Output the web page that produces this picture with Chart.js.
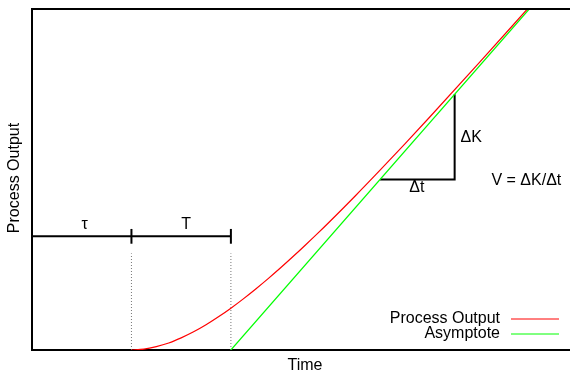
<!DOCTYPE html>
<html>
<head>
<meta charset="utf-8">
<script src="https://cdn.jsdelivr.net/npm/chart.js@4/dist/chart.umd.min.js"></script>
<style>
  html, body { margin: 0; padding: 0; background: #fff; }
  #wrap { width: 570px; height: 374px; position: relative; }
</style>
</head>
<body>
<div id="wrap"><canvas id="chart"></canvas></div>
<script>
// Process output (ramp response)
const outputTime = [1, 1.125, 1.25, 1.375, 1.5, 1.625, 1.75, 1.875, 2, 2.125, 2.25, 2.375, 2.5, 2.625,
    2.75, 2.875, 3, 3.25, 3.5, 3.75, 4, 4.5, 5];
const outputValue = [0, 0.008, 0.03, 0.062, 0.107, 0.16, 0.222, 0.292, 0.368, 0.45, 0.537, 0.628, 0.723, 0.822,
    0.924, 1.028, 1.135, 1.355, 1.582, 1.814, 2.05, 2.53, 3.018];

// Asymptote
const asymTime = [2, 5];
const asymValue = [0, 3];

// Helper marks: tau / T bracket, slope triangle, dotted guides
const bracketTime = [0, 2];
const bracketLevel = 1;
const bracketTicks = [0, 1, 2];
const tickHalf = 0.065;
const triTime = [3.5, 4.25, 4.25];
const triValue = [1.5, 1.5, 2.25];
const guideTime = [1, 2];
const guideTop = 0.85;

const FONT = "Liberation Sans, Arial, Helvetica, sans-serif";

const pts = (xs, ys) => xs.map((x, i) => ({ x, y: ys[i] }));

const markStyle = { borderColor: "#000", borderWidth: 2, pointRadius: 0, fill: false, showLine: true, legend: false };

const datasets = [
    { label: "Process Output", data: pts(outputTime, outputValue), borderColor: "#ff0000", borderWidth: 1.2,
      pointRadius: 0, showLine: true, cubicInterpolationMode: "monotone", legend: true },
    { label: "Asymptote", data: pts(asymTime, asymValue), borderColor: "#00ff00", borderWidth: 1.2,
      pointRadius: 0, showLine: true, legend: true },
    { ...markStyle, data: [{ x: bracketTime[0], y: bracketLevel }, { x: bracketTime[1], y: bracketLevel }] },
    ...bracketTicks.map(t => ({ ...markStyle, data: [{ x: t, y: bracketLevel - tickHalf }, { x: t, y: bracketLevel + tickHalf }] })),
    { ...markStyle, data: pts(triTime, triValue) },
    ...guideTime.map(t => ({ ...markStyle, borderColor: "#777", borderWidth: 1, borderDash: [1, 2],
      data: [{ x: t, y: 0 }, { x: t, y: guideTop }] }))
];

// text placed in data coordinates
const notes = [
    { text: "\u03c4", x: 0.53, y: 1.10, align: "center" },
    { text: "T", x: 1.55, y: 1.10, align: "center" },
    { text: "\u0394K", x: 4.31, y: 1.865, align: "left" },
    { text: "\u0394t", x: 3.87, y: 1.425, align: "center" },
    { text: "V = \u0394K/\u0394t", x: 4.62, y: 1.487, align: "left" }
];

const textPlugin = {
    id: "textPlugin",
    afterDatasetsDraw(chart) {
        const { ctx, scales: { x, y }, chartArea } = chart;
        ctx.save();
        ctx.fillStyle = "#000";
        ctx.font = "16px " + FONT;
        ctx.textBaseline = "middle";
        notes.forEach(n => {
            ctx.textAlign = n.align;
            ctx.fillText(n.text, x.getPixelForValue(n.x), y.getPixelForValue(n.y));
        });

        // axis titles
        ctx.textAlign = "center";
        ctx.fillText("Time", 305, chartArea.bottom + 16);
        ctx.save();
        ctx.translate(15, 178);
        ctx.rotate(-Math.PI / 2);
        ctx.fillText("Process Output", 0, 0);
        ctx.restore();

        // top border
        ctx.strokeStyle = "#000";
        ctx.lineWidth = 2;
        ctx.beginPath();
        ctx.moveTo(chartArea.left - 1, chartArea.top);
        ctx.lineTo(chartArea.right, chartArea.top);
        ctx.stroke();

        // legend, gnuplot style
        const items = chart.data.datasets.filter(d => d.legend);
        ctx.textAlign = "right";
        items.forEach((d, i) => {
            const yy = chartArea.bottom - 31 + i * 15;
            ctx.fillText(d.label, 500, yy);
            ctx.strokeStyle = d.borderColor;
            ctx.lineWidth = 1;
            ctx.beginPath();
            ctx.moveTo(511, yy);
            ctx.lineTo(559, yy);
            ctx.stroke();
        });
        ctx.restore();
    }
};

new Chart(document.getElementById("chart"), {
    type: "scatter",
    data: { datasets },
    options: {
        responsive: true,
        maintainAspectRatio: false,
        animation: false,
        layout: { padding: { left: 24, top: 9, right: 0, bottom: 16 } },
        plugins: { legend: { display: false }, tooltip: { enabled: false } },
        scales: {
            x: {
                type: "linear", min: 0, max: 5.41,
                grid: { display: false },
                ticks: { display: false },
                border: { display: true, color: "#000", width: 2 }
            },
            y: {
                type: "linear", min: 0, max: 3,
                grid: { display: false },
                ticks: { display: false },
                border: { display: true, color: "#000", width: 2 }
            }
        }
    },
    plugins: [textPlugin]
});
</script>
</body>
</html>
